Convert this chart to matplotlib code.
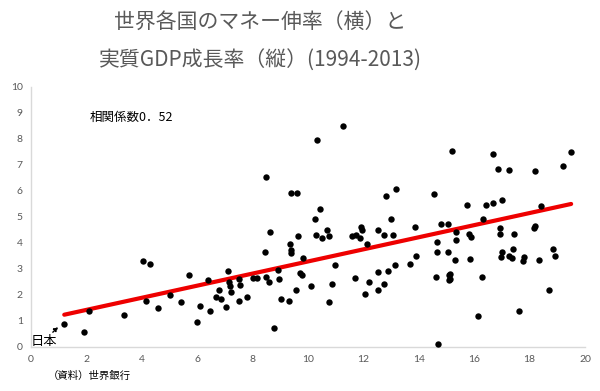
import matplotlib
matplotlib.use("Agg")
import matplotlib.pyplot as plt

plt.rcParams['font.family'] = ['Noto Sans CJK JP', 'DejaVu Sans']

title_line1 = "世界各国のマネー伸率（横）と"
title_line2 = "実質GDP成長率（縦）(1994-2013)"
corr_text = "相関係数0．52"
japan_label = "日本"
source_text = "（資料）世界銀行"

money_growth = [1.19, 1.93, 2.11, 3.36, 4.04, 4.28, 4.15, 4.58, 5.00, 5.40,
                5.70, 5.99, 6.11, 6.47, 6.39, 6.79, 6.69, 6.87, 7.04, 7.10,
                7.14, 7.20, 7.23, 7.50, 7.53, 7.52, 7.78, 8.00, 8.17, 8.46,
                8.49, 8.58, 8.62, 8.78, 8.90, 8.95, 9.02, 9.32, 9.34, 9.37,
                9.38, 9.56, 9.65, 9.72, 9.78, 9.82, 10.10, 10.29, 10.51, 10.68,
                10.75, 10.27, 10.45, 10.31, 8.50, 9.40, 9.61, 11.27, 12.82, 13.18,
                14.54, 13.00, 15.20, 11.92, 11.96, 12.51, 13.87, 14.79, 15.06, 11.58,
                11.72, 11.89, 12.12, 12.75, 13.06, 14.65, 14.67, 15.04, 13.90, 13.70,
                13.14, 12.89, 12.51, 12.75, 12.51, 12.20, 12.04, 11.69, 10.98, 10.85,
                10.77, 14.63, 15.10, 15.10, 14.68, 16.68, 16.87, 17.27, 18.18, 19.50,
                19.20, 15.74, 16.44, 16.68, 17.00, 18.41, 16.30, 16.94, 18.19, 15.33,
                15.35, 15.80, 15.90, 16.93, 17.42, 15.29, 15.84, 16.99, 16.97, 17.27,
                17.40, 17.38, 17.75, 17.79, 18.35, 18.83, 18.93, 15.14, 15.14, 16.29,
                18.69, 17.60, 16.12, 18.17]
gdp_growth = [0.86, 0.55, 1.38, 1.21, 3.31, 3.18, 1.77, 1.50, 1.98, 1.71,
              2.75, 0.96, 1.57, 1.37, 2.57, 2.19, 1.92, 1.82, 1.52, 2.92,
              2.48, 2.33, 2.12, 2.59, 2.36, 1.76, 1.92, 2.63, 2.63, 3.63,
              2.67, 2.50, 4.42, 0.73, 2.95, 2.62, 1.85, 1.75, 3.94, 3.72,
              3.62, 2.18, 4.26, 2.82, 2.76, 3.41, 2.35, 4.31, 4.19, 4.50,
              4.25, 4.92, 5.29, 7.94, 6.52, 5.93, 5.92, 8.48, 5.81, 6.05,
              5.87, 4.90, 7.54, 4.59, 4.50, 4.48, 4.62, 4.71, 4.72, 4.25,
              4.28, 4.17, 3.95, 4.31, 4.31, 4.02, 3.64, 3.65, 3.50, 3.19,
              3.14, 2.91, 2.89, 2.42, 2.18, 2.48, 2.02, 2.64, 3.14, 2.40,
              1.73, 2.68, 2.76, 2.56, 0.12, 7.41, 6.83, 6.80, 6.77, 7.49,
              6.94, 5.44, 5.44, 5.52, 5.63, 5.42, 4.90, 4.58, 4.64, 4.40,
              4.10, 4.33, 4.23, 4.33, 4.35, 3.32, 3.36, 3.64, 3.46, 3.50,
              3.76, 3.42, 3.31, 3.44, 3.33, 3.76, 3.50, 2.80, 2.59, 2.67,
              2.18, 1.39, 1.17, 4.58]

trend_x = [1.2, 19.5]
trend_y = [1.23, 5.49]

x_ticks = [0, 2, 4, 6, 8, 10, 12, 14, 16, 18, 20]
y_ticks = [0, 1, 2, 3, 4, 5, 6, 7, 8, 9, 10]

gray = '#595959'

fig = plt.figure(figsize=(6.0, 3.91), dpi=100)
ax = fig.add_axes([0.0517, 0.1133, 0.9233, 0.665])

ax.plot(trend_x, trend_y, color='#ee0000', lw=3.0, solid_capstyle='round', zorder=2)
ax.plot(money_growth, gdp_growth, 'o', color='black', markersize=4.6,
        markeredgewidth=0, zorder=3)

ax.set_xlim(0, 20)
ax.set_ylim(0, 10)
ax.set_xticks(x_ticks)
ax.set_yticks(y_ticks)
ax.tick_params(length=0, labelsize=7.5, labelcolor=gray, pad=6)
for lbl in ax.get_xticklabels() + ax.get_yticklabels():
    lbl.set_family(['Lato', 'DejaVu Sans'])
for s in ['top', 'right']:
    ax.spines[s].set_visible(False)
for s in ['left', 'bottom']:
    ax.spines[s].set_color('#d9d9d9')
    ax.spines[s].set_linewidth(1.0)

ax.text(2.1, 8.8, corr_text, fontsize=9, color='black', va='center', ha='left')

ax.annotate(japan_label, xy=(0.98, 0.76), xytext=(0.45, 0.2),
            fontsize=9.5, color='black', ha='center', va='center',
            arrowprops=dict(arrowstyle='-|>', color='black', lw=1.0,
                            mutation_scale=6,
                            linestyle=(0, (1.5, 1)), shrinkA=7, shrinkB=0))

fig.text(89 / 600, 1 - 376 / 391, source_text, fontsize=7.5, color='black',
         ha='center', va='center')

fig.text(260 / 600, 1 - 23 / 391, title_line1, fontsize=15, color=gray,
         ha='center', va='center')
fig.text(260 / 600, 1 - 61 / 391, title_line2, fontsize=15, color=gray,
         ha='center', va='center')

fig.savefig('out.png', dpi=100)
